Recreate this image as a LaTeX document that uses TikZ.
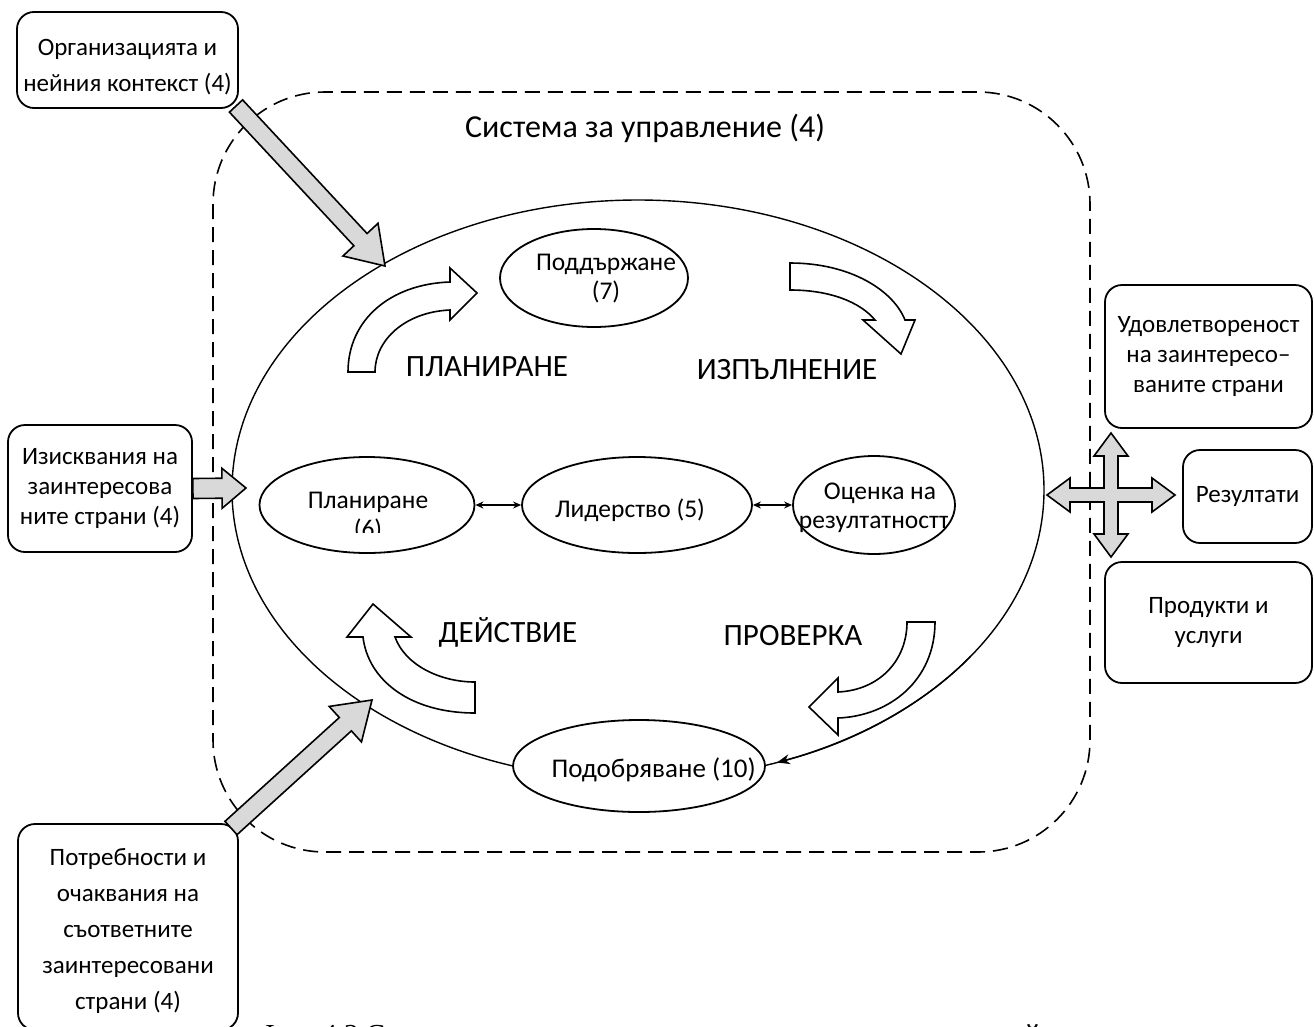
\documentclass[tikz,border=0pt]{standalone}
\usepackage{fontspec}
\setmainfont{Carlito}
\newfontfamily\captionfont{Liberation Serif}
\usetikzlibrary{shapes.geometric,calc,arrows.meta}

\definecolor{arrowgray}{HTML}{D9D9D9}

% straight block arrow: foot, tip, half shaft, half head, head length
\newcommand\blockarrow[5]{%
  \coordinate (ba-h) at ($(#2)!#5!(#1)$);
  \filldraw[grayarrow] ($(#1)!#3!90:(#2)$) -- ($(ba-h)!#3!90:(#2)$)
    -- ($(ba-h)!#4!90:(#2)$) -- (#2) -- ($(ba-h)!#4!-90:(#2)$)
    -- ($(ba-h)!#3!-90:(#2)$) -- ($(#1)!#3!-90:(#2)$) -- cycle;
}

\begin{document}
\begin{tikzpicture}[x=1pt,y=-1pt,
  sidebox/.style={draw, line width=1.8pt, rounded corners=17pt, align=center,
    inner sep=0pt, font=\fontsize{25}{30}\selectfont},
  boxtext/.style={align=center, font=\fontsize{25}{36}\selectfont},
  stage/.style={draw, ellipse, line width=1.8pt, fill=white, inner sep=0pt},
  stagetext/.style={align=center, font=\fontsize{25.5}{29}\selectfont},
  phase/.style={font=\fontsize{31}{34}\selectfont},
  bentarrow/.style={draw, fill=white, line width=1.6pt, line join=miter},
  grayarrow/.style={draw, fill=arrowgray, line width=1.6pt, line join=miter},
  link/.style={line width=1.2pt, {Stealth[length=8pt,width=7pt]}-{Stealth[length=8pt,width=7pt]}}]

\useasboundingbox (0,0) rectangle (1314,1026);
\clip (0,0) rectangle (1314,1026);

% system boundary
\draw[dash pattern=on 15pt off 8pt, line width=1.6pt, rounded corners=112pt]
  (213,92) rectangle (1090,852);
\node[phase, font=\fontsize{32}{34}\selectfont] (system) at (645,128) {Система за управление (4)};

% PDCA cycle
\node[draw, ellipse, line width=1.4pt, inner sep=0pt,
  minimum width=812pt, minimum height=580pt] (cycle) at (638,490) {};
\draw[line width=1.4pt, -{Stealth[length=13pt,width=10pt]}]
  (970.6,656.3) arc[start angle=35, end angle=70, x radius=406, y radius=290];

\node[stage, minimum width=188pt, minimum height=98pt] (support) at (594,278) {};
\node[stage, minimum width=215pt, minimum height=96pt] (plan) at (367,505) {};
\node[stage, minimum width=230pt, minimum height=96pt] (lead) at (637,505) {};
\node[stage, minimum width=162pt, minimum height=98pt] (eval) at (874,505) {};
\node[stage, minimum width=252pt, minimum height=92pt] (improve) at (639,766) {};

\draw[link] (plan) -- (lead);
\draw[link] (lead) -- (eval);

\begin{scope}
  \clip (505,238) rectangle (686,302);
  \node[stagetext] (supporttext) at (606,279) {Поддържане\\(7)};
\end{scope}
\begin{scope}
  \clip (262,470) rectangle (472,532);
  \node[stagetext] (plantext) at (368,517) {Планиране\\(6)};
\end{scope}
\node[stagetext] (leadtext) at (630,510) {Лидерство (5)};
\begin{scope}
  \clip (797,470) rectangle (947,532);
  \node[stagetext] (evaltext) at (880,507.5) {Оценка на\\резултатността};
\end{scope}
\begin{scope}
  \clip (516,740) rectangle (754,800);
  \node[stagetext, font=\fontsize{27}{29}\selectfont, anchor=west] (improvetext)
    at (548,770) {Подобряване (10)};
\end{scope}

% phases
\node[phase] (phaseplan) at (487,367) {ПЛАНИРАНЕ};
\node[phase] (phasedo) at (787,370) {ИЗПЪЛНЕНИЕ};
\node[phase] (phaseact) at (508,632) {ДЕЙСТВИЕ};
\node[phase] (phasecheck) at (793,636) {ПРОВЕРКА};

% bent arrows
\filldraw[bentarrow] (348,372) .. controls (348,320) and (390,284) .. (450,282)
  -- (450,268) -- (477,293) -- (450,320) -- (450,310)
  .. controls (405,312) and (375,340) .. (375,372) -- cycle;
\filldraw[bentarrow] (790,263) .. controls (850,263) and (893,290) .. (905,320)
  -- (915,320) -- (901,354) -- (863,320) -- (875,320)
  .. controls (860,302) and (830,290) .. (790,290) -- cycle;
\filldraw[bentarrow] (475,682) -- (475,713) .. controls (410,713) and (368,680) .. (363,637)
  -- (347,637) -- (373,604) -- (411,637) -- (395,637)
  .. controls (405,665) and (440,682) .. (475,682) -- cycle;
\filldraw[bentarrow] (907,622) -- (935,622) .. controls (935,680) and (890,716) .. (838,718)
  -- (838,735) -- (809,707) -- (838,678) -- (838,692)
  .. controls (880,690) and (907,660) .. (907,622) -- cycle;

% inputs
\node[sidebox, minimum width=221pt, minimum height=96pt] (context) at (127.5,60) {};
\node[boxtext] (contexttext) at (127.5,67) {Организацията и\\нейния контекст (4)};
\node[sidebox, minimum width=184pt, minimum height=127pt] (requirements) at (100,488.5)
  {Изисквания на\\заинтересова\\ните страни (4)};
\node[sidebox, minimum width=220pt, minimum height=206pt] (expectations) at (128,927) {};
\node[boxtext] (expectationstext) at (128,931)
  {Потребности и\\очаквания на\\съответните\\заинтересовани\\страни (4)};

\coordinate (contextfoot) at (236,106);
\coordinate (contexttip) at (385,266);
\blockarrow{contextfoot}{contexttip}{9pt}{24pt}{36pt}
\coordinate (requirementstip) at (246,488);
\blockarrow{requirements.east}{requirementstip}{10pt}{20pt}{24pt}
\coordinate (expectationsfoot) at (231,828);
\coordinate (expectationstip) at (372,700);
\blockarrow{expectationsfoot}{expectationstip}{9pt}{24pt}{36pt}

% outputs
\node[sidebox, minimum width=207pt, minimum height=143pt] (satisfaction) at (1208.5,356.5)
  {Удовлетвореност\\на заинтересо–\\ваните страни};
\node[sidebox, minimum width=129pt, minimum height=93pt] (results) at (1247.5,496.5)
  {Резултати};
\node[sidebox, minimum width=207pt, minimum height=121pt] (products) at (1208.5,622.5)
  {Продукти и\\услуги};

\filldraw[grayarrow] (1111,433) -- (1128,456) -- (1118,456) -- (1118,488)
  -- (1152,488) -- (1152,478) -- (1175,495) -- (1152,512) -- (1152,502)
  -- (1118,502) -- (1118,534) -- (1128,534) -- (1111,557) -- (1094,534)
  -- (1104,534) -- (1104,502) -- (1070,502) -- (1070,512) -- (1047,495)
  -- (1070,478) -- (1070,488) -- (1104,488) -- (1104,456) -- (1094,456) -- cycle;

% caption, cut by the page edge
\node[anchor=base west, font=\captionfont\fontsize{29}{31}\selectfont] (caption)
  at (255,1044) {Фиг. 4.2 Система за управление на организацията съгласно нейния контекст};

\end{tikzpicture}
\end{document}
